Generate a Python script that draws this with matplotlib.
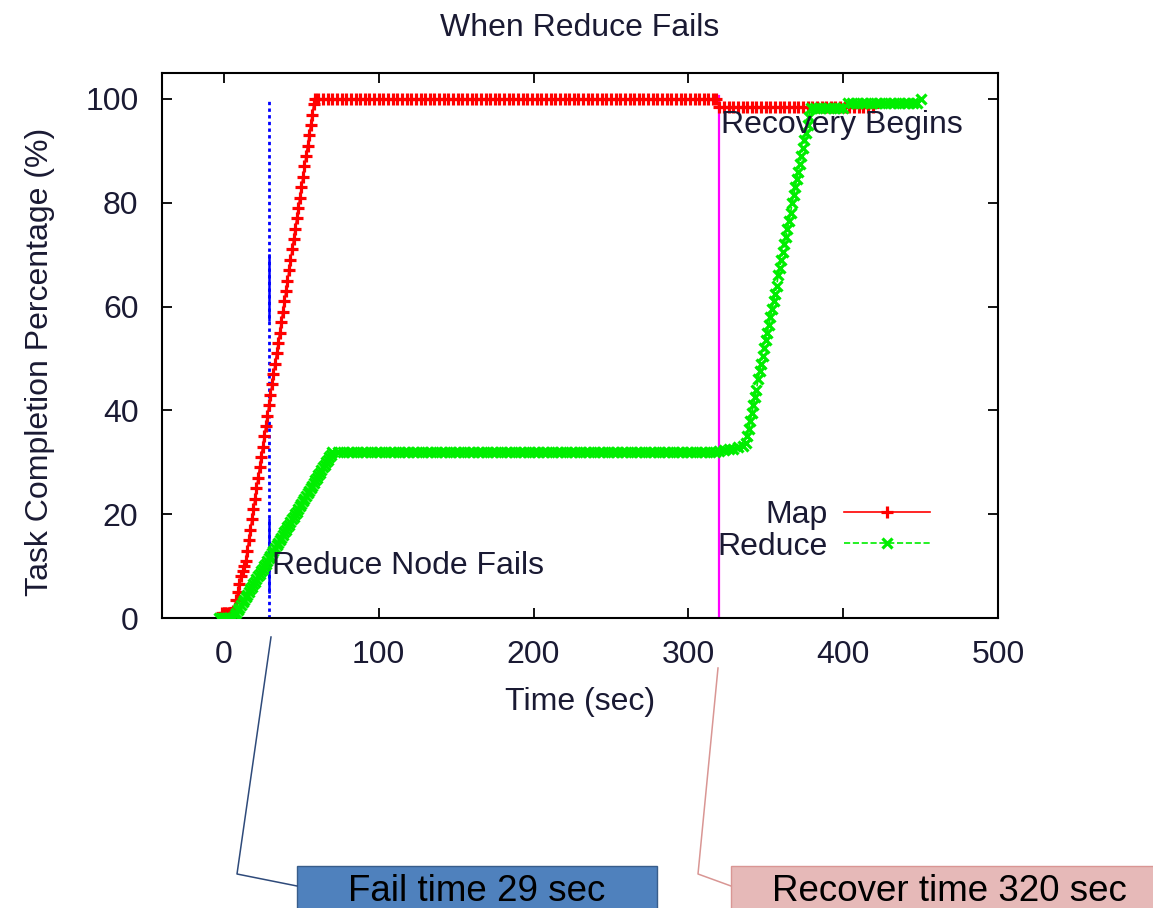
import matplotlib.pyplot as plt
from matplotlib.patches import Rectangle
from matplotlib.lines import Line2D

plt.rcParams['font.family'] = ['Liberation Sans', 'DejaVu Sans']

# ---- data (time in sec, completion in %) ----
map_ramp_t = [-1, 0, 1, 2, 3, 4, 5, 6,
              7, 8, 9, 10, 11, 12, 13, 14, 15, 16, 17, 18, 19, 20, 21, 22, 23,
              24, 25, 26, 27, 28, 29, 30, 31, 32, 33, 34, 35, 36, 37, 38, 39,
              40, 41, 42, 43, 44, 45, 46, 47, 48, 49, 50, 51, 52, 53, 54, 55,
              56, 57, 58, 59]
map_ramp_pct = [1, 1, 1, 1, 1, 1, 1, 1.3,
                2, 3.5, 5, 6.5, 8, 9, 10, 11, 13, 15, 17, 19, 21, 23, 25, 27, 29,
                31, 33, 35, 37, 39, 41, 43, 45, 47, 49, 51, 53, 55, 57, 59, 61,
                63, 65, 67, 69, 71, 73, 75, 77, 79, 81, 83, 85, 87, 89, 91, 93,
                95, 97, 99, 100]

map_flat_t = [61, 64, 67, 70, 73, 76, 79, 82, 85, 88, 91, 94, 97, 100, 103,
              106, 109, 112, 115, 118, 121, 124, 127, 130, 133, 136, 139, 142,
              145, 148, 151, 154, 157, 160, 163, 166, 169, 172, 175, 178, 181,
              184, 187, 190, 193, 196, 199, 202, 205, 208, 211, 214, 217, 220,
              223, 226, 229, 232, 235, 238, 241, 244, 247, 250, 253, 256, 259,
              262, 265, 268, 271, 274, 277, 280, 283, 286, 289, 292, 295, 298,
              301, 304, 307, 310, 313, 316, 318]
map_flat_pct = [100, 100, 100, 100, 100, 100, 100, 100, 100, 100,
                100, 100, 100, 100, 100, 100, 100, 100, 100, 100,
                100, 100, 100, 100, 100, 100, 100, 100, 100, 100,
                100, 100, 100, 100, 100, 100, 100, 100, 100, 100,
                100, 100, 100, 100, 100, 100, 100, 100, 100, 100,
                100, 100, 100, 100, 100, 100, 100, 100, 100, 100,
                100, 100, 100, 100, 100, 100, 100, 100, 100, 100,
                100, 100, 100, 100, 100, 100, 100, 100, 100, 100,
                100, 100, 100, 100, 100, 100, 100]

map_rec_t = [320, 323, 326, 329, 332, 335, 338, 341, 344, 347, 350, 353, 356,
             359, 362, 365, 368, 371, 374, 377, 380, 383, 386, 389, 392, 395,
             398, 401, 404, 407, 410, 413, 416, 419]
map_rec_pct = [98.4, 98.4, 98.4, 98.4, 98.4, 98.4, 98.4, 98.4, 98.4, 98.4,
               98.4, 98.4, 98.4, 98.4, 98.4, 98.4, 98.4, 98.4, 98.4, 98.4,
               98.4, 98.4, 98.4, 98.4, 98.4, 98.4, 98.4, 98.4, 98.4, 98.4,
               98.4, 98.4, 98.4, 98.4]

red_ramp_t = [-3, -2, -1, 0, 1, 2, 3, 4, 5, 6,
              7, 8, 9, 10, 11, 12, 13, 14, 15, 16, 17, 18, 19, 20, 21, 22,
              23, 24, 25, 26, 27, 28, 29, 30, 31, 32, 33, 34, 35, 36, 37, 38,
              39, 40, 41, 42, 43, 44, 45, 46, 47, 48, 49, 50, 51, 52, 53, 54,
              55, 56, 57, 58, 59, 60, 61, 62, 63, 64, 65, 66, 67, 68, 69, 70]
red_ramp_pct = [0, 0, 0, 0, 0, 0, 0, 0, 0, 0,
                0.5, 1, 1.5, 2, 2.5, 3, 3.5, 4, 4.5, 5, 5.5, 6, 6.5, 7, 7.5, 8,
                8.5, 9, 9.5, 10, 10.5, 11, 11.5, 12, 12.5, 13, 13.5, 14, 14.5,
                15, 15.5, 16, 16.5, 17, 17.5, 18, 18.5, 19, 19.5, 20, 20.5, 21,
                21.5, 22, 22.5, 23, 23.5, 24, 24.5, 25, 25.5, 26, 26.5, 27,
                27.5, 28, 28.5, 29, 29.5, 30, 30.5, 31, 31.5, 32]

red_flat_t = [74, 77, 80, 83, 86, 89, 92, 95, 98, 101, 104, 107, 110, 113,
              116, 119, 122, 125, 128, 131, 134, 137, 140, 143, 146, 149, 152,
              155, 158, 161, 164, 167, 170, 173, 176, 179, 182, 185, 188, 191,
              194, 197, 200, 203, 206, 209, 212, 215, 218, 221, 224, 227, 230,
              233, 236, 239, 242, 245, 248, 251, 254, 257, 260, 263, 266, 269,
              272, 275, 278, 281, 284, 287, 290, 293, 296, 299, 302, 305, 308,
              311, 314, 317]
red_flat_pct = [32, 32, 32, 32, 32, 32, 32, 32, 32, 32,
                32, 32, 32, 32, 32, 32, 32, 32, 32, 32,
                32, 32, 32, 32, 32, 32, 32, 32, 32, 32,
                32, 32, 32, 32, 32, 32, 32, 32, 32, 32,
                32, 32, 32, 32, 32, 32, 32, 32, 32, 32,
                32, 32, 32, 32, 32, 32, 32, 32, 32, 32,
                32, 32, 32, 32, 32, 32, 32, 32, 32, 32,
                32, 32, 32, 32, 32, 32, 32, 32, 32, 32,
                32, 32]

red_rec_t = [320, 323, 326, 329, 332, 335, 337,
             338, 339, 340, 341, 342, 343, 344, 345, 346, 347, 348, 349, 350,
             351, 352, 353, 354, 355, 356, 357, 358, 359, 360, 361, 362, 363,
             364, 365, 366, 367, 368, 369, 370, 371, 372, 373, 374, 375, 376,
             377, 378,
             379, 382, 385, 388, 391, 394, 397, 400,
             403, 406, 409, 412, 415, 418, 421, 424, 427, 430, 433, 436, 439,
             442, 445, 448, 450]
red_rec_pct = [32.2, 32.4, 32.5, 32.6, 33, 33.2, 33.8,
               35, 36.5, 38, 39.5, 41, 42.5, 44, 46, 47.5, 49, 50.5, 52, 53.5,
               55, 56.5, 58, 59.5, 61, 62.5, 64, 66, 67.5, 69, 70.5, 72, 73.5,
               75, 76.5, 78, 80, 81.5, 83, 84.5, 86, 87.5, 89, 90.5, 92, 93.5,
               95, 96.5,
               98.2, 98.2, 98.2, 98.2, 98.2, 98.2, 98.2, 98.2,
               99.2, 99.2, 99.2, 99.2, 99.2, 99.2, 99.2, 99.2, 99.2, 99.2,
               99.2, 99.2, 99.2, 99.2, 99.2, 99.2, 100]

map_time = map_ramp_t + map_flat_t + map_rec_t
map_pct = map_ramp_pct + map_flat_pct + map_rec_pct
reduce_time = red_ramp_t + red_flat_t + red_rec_t
reduce_pct = red_ramp_pct + red_flat_pct + red_rec_pct

fail_time = 29
recover_time = 320
x_ticks = [0, 100, 200, 300, 400, 500]
y_ticks = [0, 20, 40, 60, 80, 100]

# ---- figure ----
W, H = 1153, 908
fig = plt.figure(figsize=(W / 100, H / 100), dpi=100)
ax = fig.add_axes([162 / W, 1 - 618 / H, 836 / W, 545 / H])

txt = '#1a1a33'
fs = 23

ax.axvline(fail_time, ymin=0, ymax=100 / 105, color='#0000ff', lw=2,
           ls=(0, (1.2, 1.2)), zorder=1)
ax.plot([fail_time, fail_time], [57.5, 70], color='#0000ff', lw=1.8, zorder=1)
ax.plot([fail_time, fail_time], [5, 19], color='#0000ff', lw=1.8, zorder=1)
ax.axvline(recover_time, ymin=0, ymax=100.5 / 105, color='#ff00ff', lw=1.6,
           zorder=1)

ax.plot(map_time, map_pct, color='#ff0000', lw=1.2, marker='+', ms=9,
        mew=2.3, label='Map', zorder=2)
ax.plot(reduce_time, reduce_pct, color='#00ee00', lw=1.2, ls='--',
        marker='x', ms=7, mew=2.3, label='Reduce', zorder=3)

ax.text(fail_time + 2, 10, 'Reduce Node Fails', fontsize=fs, color=txt,
        ha='left', va='center', zorder=5)
ax.text(recover_time + 1, 95, 'Recovery Begins', fontsize=fs, color=txt,
        ha='left', va='center', zorder=5)

ax.set_xlim(-40, 500)
ax.set_ylim(0, 105)
ax.set_xticks(x_ticks)
ax.set_yticks(y_ticks)
ax.tick_params(direction='in', length=7, width=1.3, top=True, right=True,
               labelsize=fs, labelcolor=txt)
ax.tick_params(axis='x', pad=16)
ax.tick_params(axis='y', pad=17)
for s in ax.spines.values():
    s.set_linewidth(1.5)

ax.set_title('When Reduce Fails', fontsize=fs, color=txt, pad=27)
ax.set_xlabel('Time (sec)', fontsize=fs, color=txt, labelpad=12)
ax.set_ylabel('Task Completion Percentage (%)', fontsize=fs, color=txt)
ax.yaxis.set_label_coords(-0.128, 0.47)

leg = ax.legend(loc='center right', bbox_to_anchor=(0.919, 0.16),
                frameon=False, markerfirst=False, fontsize=fs,
                handlelength=2.7, handletextpad=0.5, labelspacing=0.05,
                borderpad=0, borderaxespad=0)
for t in leg.get_texts():
    t.set_color(txt)

# ---- call-out boxes below the chart ----
def fx(px):
    return px / W


def fy(py):
    return 1 - py / H


fig.add_artist(Line2D([fx(271), fx(237), fx(297)], [fy(637), fy(874), fy(886)],
                      color='#2e4a7a', lw=1.1))
fig.add_artist(Line2D([fx(718), fx(698), fx(731)], [fy(668), fy(874), fy(886)],
                      color='#d99694', lw=1.1))

fig.add_artist(Rectangle((fx(297), fy(940)), (657 - 297) / W, 74 / H,
                         transform=fig.transFigure, facecolor='#4f81bd',
                         edgecolor='#385d8a', lw=1))
fig.add_artist(Rectangle((fx(731), fy(940)), (1180 - 731) / W, 74 / H,
                         transform=fig.transFigure, facecolor='#e6b9b8',
                         edgecolor='#d99694', lw=1))
fig.text(fx(477), fy(901), f'Fail time {fail_time} sec', fontsize=26.5,
         color='black', ha='center', va='baseline')
fig.text(fx(949), fy(901), f'Recover time {recover_time} sec', fontsize=26.5,
         color='black', ha='center', va='baseline')

fig.savefig('out.png', dpi=100)
